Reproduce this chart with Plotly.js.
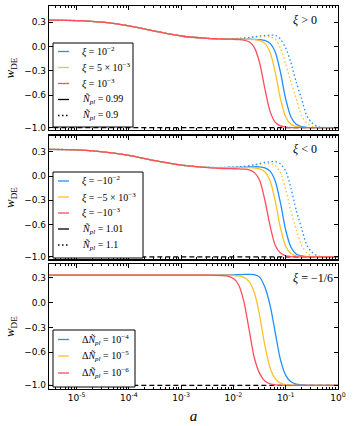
<!DOCTYPE html>
<html><head><meta charset="utf-8">
<script src="https://cdn.plot.ly/plotly-3.0.1.min.js"></script>
<style>html,body{margin:0;padding:0;background:#fff}#c{width:353px;height:426px}</style>
</head><body><div id="c"></div>
<script>
// log10(a) sample grid
const logA = [-5.6,-5.0,-4.5,-4.0,-3.5,-3.0,-2.5,-2.3,-2.2,-2.1,-2.0,-1.9,-1.8,-1.7,-1.6,-1.5,-1.4,-1.3,-1.2,-1.1,-1.0,-0.9,-0.8,-0.7,-0.6,-0.5,-0.4,-0.3,-0.2,0.0];
const wLambda = -1.0;

// Panel 1: xi > 0
const p1_red   = [0.326,0.32,0.30,0.255,0.19,0.13,0.10,0.095,0.093,0.092,0.09, 0.087,0.08,0.058,-0.014,-0.20,-0.52,-0.80,-0.935,-0.98,-0.995,-1,-1,-1,-1,-1,-1,-1,-1,-1];
const p1_yel   = [0.326,0.32,0.30,0.255,0.19,0.13,0.10,0.095,0.093,0.092,0.09, 0.09,0.09,0.089,0.0855,0.075,0.039,-0.071,-0.32,-0.65,-0.87,-0.96,-0.988,-0.997,-1,-1,-1,-1,-1,-1];
const p1_blue  = [0.326,0.32,0.30,0.255,0.19,0.13,0.10,0.095,0.093,0.092,0.09, 0.09,0.09,0.09,0.089,0.0855,0.075,0.039,-0.071,-0.32,-0.65,-0.87,-0.96,-0.988,-0.997,-1,-1,-1,-1,-1];
const p1_yelD  = [0.326,0.32,0.30,0.255,0.19,0.13,0.10,0.095,0.094,0.094,0.094, 0.097,0.103,0.11,0.115,0.12,0.123,0.12,0.09,-0.02,-0.22,-0.44,-0.64,-0.85,-0.94,-0.985,-0.997,-1,-1,-1];
const p1_blueD = [0.326,0.32,0.30,0.255,0.19,0.13,0.10,0.096,0.096,0.097,0.098, 0.10,0.105,0.112,0.12,0.13,0.136,0.14,0.138,0.09,-0.02,-0.2,-0.44,-0.64,-0.85,-0.94,-0.985,-0.997,-1,-1];

// Panel 2: xi < 0
const p2_red   = [0.33,0.325,0.30,0.255,0.19,0.135,0.105,0.097,0.094,0.092,0.091, 0.09,0.086,0.077,0.043,-0.052,-0.296,-0.614,-0.858,-0.953,-0.987,-0.996,-1,-1,-1,-1,-1,-1,-1,-1];
const p2_yel   = [0.33,0.325,0.30,0.255,0.19,0.135,0.108,0.104,0.104,0.105,0.105, 0.105,0.105,0.104,0.1005,0.0895,0.053,-0.059,-0.313,-0.645,-0.868,-0.959,-0.988,-0.997,-1,-1,-1,-1,-1,-1];
const p2_blue  = [0.33,0.325,0.30,0.255,0.19,0.135,0.108,0.104,0.105,0.106,0.107, 0.108,0.11,0.113,0.115,0.115,0.102,0.061,-0.065,-0.336,-0.67,-0.88,-0.963,-0.989,-0.997,-1,-1,-1,-1,-1];
const p2_yelD  = [0.33,0.325,0.30,0.255,0.19,0.135,0.108,0.105,0.106,0.107,0.108, 0.11,0.115,0.125,0.135,0.145,0.152,0.155,0.13,0.04,-0.17,-0.43,-0.66,-0.85,-0.95,-0.988,-1,-1,-1,-1];
const p2_blueD = [0.33,0.325,0.30,0.255,0.19,0.135,0.108,0.106,0.108,0.11,0.112, 0.115,0.12,0.13,0.14,0.155,0.168,0.178,0.18,0.15,0.06,-0.15,-0.42,-0.64,-0.85,-0.94,-0.985,-1,-1,-1];

// Panel 3: xi = -1/6
const p3_red   = [0.333,0.333,0.333,0.333,0.333,0.333,0.333,0.332,0.328,0.319, 0.292,0.214,0.01,-0.33,-0.67,-0.856,-0.949,-0.983,-0.994,-0.998,-1,-1,-1,-1,-1,-1,-1,-1,-1,-1];
const p3_yel   = [0.333,0.333,0.333,0.333,0.333,0.333,0.333,0.333,0.333,0.333, 0.330,0.324,0.307,0.256,0.121,-0.152,-0.515,-0.788,-0.923,-0.973,-0.991,-0.997,-1,-1,-1,-1,-1,-1,-1,-1];
const p3_blue  = [0.333,0.333,0.333,0.333,0.333,0.333,0.334,0.335,0.336,0.337, 0.338,0.340,0.342,0.343,0.34,0.31,0.19,-0.03,-0.364,-0.693,-0.88,-0.958,-0.986,-0.995,-0.999,-1,-1,-1,-1,-1];

const xTickVals = [1e-5,1e-4,1e-3,1e-2,1e-1,1];
const xTickText = ['10<sup>-5</sup>','10<sup>-4</sup>','10<sup>-3</sup>','10<sup>-2</sup>','10<sup>-1</sup>','10<sup>0</sup>'];
const yTickVals = [0.3,0.0,-0.3,-0.6,-1.0];
const yTickText = ['0.3','0.0','−0.3','−0.6','−1.0'];

const leg1 = ['<i>ξ</i> = 10<sup>−2</sup>','<i>ξ</i> = 5 × 10<sup>−3</sup>','<i>ξ</i> = 10<sup>−3</sup>','<i>Ñ</i><sub><i>pl</i></sub> = 0.99','<i>Ñ</i><sub><i>pl</i></sub> = 0.9'];
const leg2 = ['<i>ξ</i> = −10<sup>−2</sup>','<i>ξ</i> = −5 × 10<sup>−3</sup>','<i>ξ</i> = −10<sup>−3</sup>','<i>Ñ</i><sub><i>pl</i></sub> = 1.01','<i>Ñ</i><sub><i>pl</i></sub> = 1.1'];
const leg3 = ['Δ<i>Ñ</i><sub><i>pl</i></sub> = 10<sup>−4</sup>','Δ<i>Ñ</i><sub><i>pl</i></sub> = 10<sup>−5</sup>','Δ<i>Ñ</i><sub><i>pl</i></sub> = 10<sup>−6</sup>'];
const panelLabels = ['<i>ξ</i> > 0','<i>ξ</i> < 0','<i>ξ</i> = −1/6'];

const BLUE='#1e90ff', YEL='#ffc125', RED='#ff4d5e';
const aVals = logA.map(v => Math.pow(10, v));
const LW = 1.3;
const DOT = '1.5px,2.5px';
const traces = [];
function ax(k, p) { return k===1 ? p : p + k; }
function tr(y, color, dash, k) {
  return {x:aVals, y:y, type:'scatter', mode:'lines', line:{color:color, width:LW, dash:dash, shape:'spline', smoothing:0.8},
    xaxis: ax(k,'x'), yaxis: ax(k,'y'), hoverinfo:'skip', showlegend:false};
}
function lam(k) {
  return {x:[aVals[0], aVals[aVals.length-1]], y:[wLambda, wLambda], type:'scatter', mode:'lines',
    line:{color:'black', width:1.2, dash:'5px,3px'}, xaxis: ax(k,'x'), yaxis: ax(k,'y'), showlegend:false, hoverinfo:'skip'};
}
traces.push(lam(1), tr(p1_yelD, YEL, DOT, 1), tr(p1_blueD, BLUE, DOT, 1), tr(p1_blue, BLUE, 'solid', 1), tr(p1_yel, YEL, 'solid', 1), tr(p1_red, RED, 'solid', 1));
traces.push(lam(2), tr(p2_yelD, YEL, DOT, 2), tr(p2_blueD, BLUE, DOT, 2), tr(p2_blue, BLUE, 'solid', 2), tr(p2_yel, YEL, 'solid', 2), tr(p2_red, RED, 'solid', 2));
traces.push(lam(3), tr(p3_blue, BLUE, 'solid', 3), tr(p3_yel, YEL, 'solid', 3), tr(p3_red, RED, 'solid', 3));

const minorVals = [];
for (let e = -6; e < 0; e++) for (let m = 2; m <= 9; m++) minorVals.push(m * Math.pow(10, e));

const tickFont = {family:'DejaVu Sans, sans-serif', size:9, color:'black'};
function xax(k) {
  return {type:'log', range:[-5.53, 0], showline:true, linecolor:'black', linewidth:1.2, mirror:'allticks',
    ticks:'inside', ticklen:4, tickwidth:1, tickcolor:'black', tickmode:'array', tickvals:xTickVals, ticktext:xTickText,
    showticklabels: k===3, tickfont: tickFont, showgrid:false, zeroline:false, automargin:false,
    minor:{tickmode:'array', tickvals:minorVals, ticks:'inside', ticklen:2, tickcolor:'black', showgrid:false},
    anchor: ax(k,'y'),
    title: k===3 ? {text:'<i>a</i>', font:{family:'Liberation Serif, serif', size:15, color:'black'}, standoff:8} : undefined};
}
function yax(k, dom, rng) {
  return {range:rng, domain:dom, showline:true, linecolor:'black', linewidth:1.2, mirror:'allticks',
    ticks:'inside', ticklen:4, tickcolor:'black', tickmode:'array', tickvals:yTickVals, ticktext:yTickText,
    tickfont:tickFont, showgrid:false, zeroline:false, anchor: ax(k,'x'), automargin:false,
    title:{text:'<i>w</i><sub>DE</sub>', font:{family:'Liberation Serif, serif', size:13, color:'black'}, standoff:6}};
}

// manual legend boxes (pixel geometry converted to paper coords)
const L = 49, R = 338, T = 6, B = 389;
const PX = px => (px - L) / (R - L);
const PY = py => (B - py) / (B - T);
const shapes = [], annotations = [];
function legendBox(x0, y0, x1, y1, labels, colors, dashes, itemYs) {
  shapes.push({type:'rect', xref:'paper', yref:'paper', x0:PX(x0), x1:PX(x1), y0:PY(y1), y1:PY(y0),
    fillcolor:'white', line:{color:'black', width:1}, layer:'above'});
  labels.forEach((lab, i) => {
    shapes.push({type:'line', xref:'paper', yref:'paper', x0:PX(58), x1:PX(69), y0:PY(itemYs[i]), y1:PY(itemYs[i]),
      line:{color:colors[i], width:LW, dash:dashes[i]}, layer:'above'});
    annotations.push({text:lab, xref:'paper', yref:'paper', x:PX(80), y:PY(itemYs[i]), xanchor:'left', yanchor:'middle',
      showarrow:false, font:{family:'Liberation Serif, serif', size:10, color:'black'}});
  });
}
legendBox(53, 43, 133, 127, leg1, [BLUE, YEL, RED, 'black', 'black'], ['solid','solid','solid','solid',DOT], [51.5, 67.5, 83.5, 99.5, 115.5]);
legendBox(53, 172, 143, 258, leg2, [BLUE, YEL, RED, 'black', 'black'], ['solid','solid','solid','solid',DOT], [181, 197, 213, 229, 245]);
legendBox(53, 330, 135, 387, leg3, [BLUE, YEL, RED], ['solid','solid','solid'], [339.5, 356, 373]);

const annFont = {family:'Liberation Serif, serif', size:12, color:'black'};
annotations.push(
  {text:panelLabels[0], xref:'x domain', yref:'y domain', x:0.885, y:0.89, xanchor:'center', yanchor:'middle', showarrow:false, font:annFont},
  {text:panelLabels[1], xref:'x2 domain', yref:'y2 domain', x:0.885, y:0.89, xanchor:'center', yanchor:'middle', showarrow:false, font:annFont},
  {text:panelLabels[2], xref:'x3 domain', yref:'y3 domain', x:0.915, y:0.89, xanchor:'center', yanchor:'middle', showarrow:false, font:annFont}
);

const layout = {
  width:353, height:426, margin:{l:L, r:353-R, t:T, b:426-B}, paper_bgcolor:'white', plot_bgcolor:'white', showlegend:false,
  xaxis: xax(1), yaxis: yax(1, [0.6762, 1], [-1.03, 0.5]),
  xaxis2: xax(2), yaxis2: yax(2, [0.3386, 0.6614], [-1.03, 0.5]),
  xaxis3: xax(3), yaxis3: yax(3, [0, 0.3256], [-1.045, 0.465]),
  shapes: shapes, annotations: annotations
};
Plotly.newPlot('c', traces, layout, {staticPlot:true, displayModeBar:false});
</script></body></html>
